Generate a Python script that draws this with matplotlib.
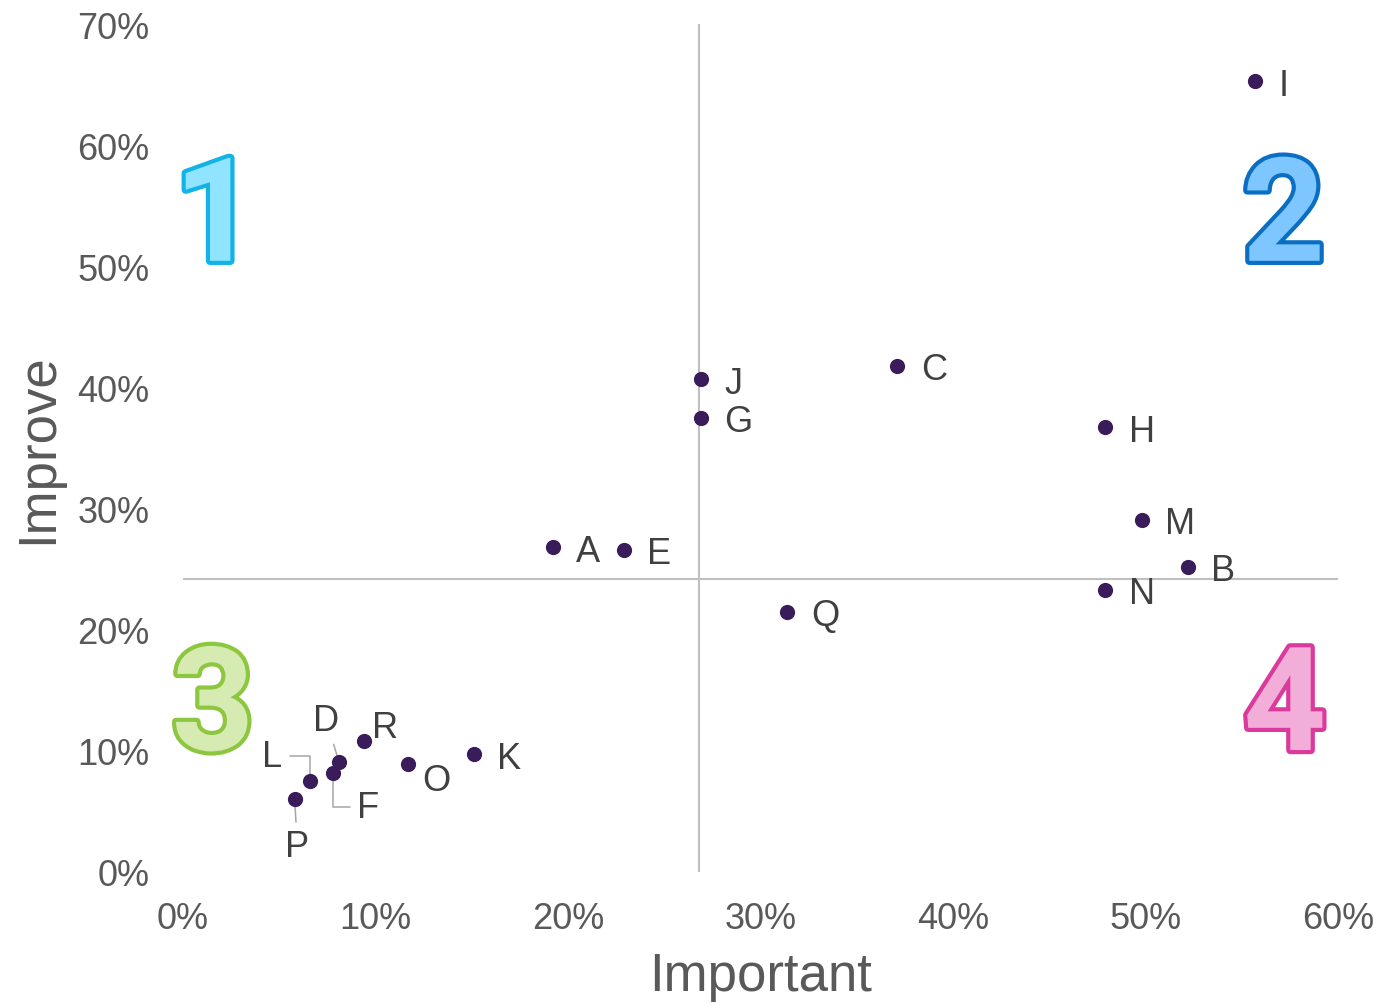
import numpy as np
import matplotlib
matplotlib.use("Agg")
import matplotlib.pyplot as plt
import matplotlib.patheffects as pe

plt.rcParams['font.family'] = ['Liberation Sans', 'DejaVu Sans']

# share of respondents (%)
names = ['A', 'B', 'C', 'D', 'E', 'F', 'G', 'H', 'I',
         'J', 'K', 'L', 'M', 'N', 'O', 'P', 'Q', 'R']
important = [19.2, 52.2, 37.1, 8.1, 22.9, 7.8, 26.9, 47.9, 55.7,
             26.9, 15.1, 6.6, 49.8, 47.9, 11.7, 5.8, 31.4, 9.4]
improve = [26.8, 25.2, 41.8, 9.1, 26.6, 8.2, 37.5, 36.7, 65.3,
           40.7, 9.7, 7.5, 29.1, 23.3, 8.9, 6.0, 21.5, 10.8]

xticks = [0, 10, 20, 30, 40, 50, 60]
yticks = [0, 10, 20, 30, 40, 50, 60, 70]

# label offsets in points; the crowded ones get leader lines
offsets = {'R': (6, 10), 'O': (10, -12)}
leaders = {
    'L': ((-27, 18), 'angle,angleA=0,angleB=90,rad=0'),
    'D': ((-9, 30), 'arc3'),
    'F': ((25, -25), 'angle,angleA=0,angleB=90,rad=0'),
    'P': ((2, -34), 'arc3'),
}

quadrants = [
    ('1', 0.028, 0.768, '#91E4FF', '#12B3E6'),
    ('2', 0.953, 0.768, '#7EC6FF', '#0A6FC2'),
    ('3', 0.026, 0.191, '#D5EBB2', '#8DC63F'),
    ('4', 0.954, 0.191, '#F2AED8', '#DA3A9C'),
]

fig = plt.figure(figsize=(14, 10.04), dpi=100)
ax = fig.add_axes([0.1307, 0.1305, 0.825, 0.8445])

ax.axvline(np.mean(important), color='#BFBFBF', lw=1.5, zorder=1)
ax.axhline(np.mean(improve), color='#BFBFBF', lw=1.5, zorder=1)

ax.scatter(important, improve, s=120, color='#3B1C5A', zorder=3, linewidths=0)

for n, x, y in zip(names, important, improve):
    if n in leaders:
        off, cs = leaders[n]
        ax.annotate(n, (x, y), xytext=off, textcoords='offset points',
                    ha='center', va='center', fontsize=26, color='#404040',
                    arrowprops=dict(arrowstyle='-', color='#A6A6A6', lw=1.1,
                                    connectionstyle=cs, shrinkA=3, shrinkB=0),
                    zorder=2)
    else:
        off = offsets.get(n, (17, -3))
        ax.annotate(n, (x, y), xytext=off, textcoords='offset points',
                    ha='left', va='center', fontsize=26, color='#404040')

for digit, qx, qy, fill, edge in quadrants:
    ax.text(qx, qy, digit, transform=ax.transAxes, ha='center', va='center',
            fontsize=104, fontweight='bold', color=fill,
            family=['Roboto', 'Liberation Sans'],
            path_effects=[pe.withStroke(linewidth=6, foreground=edge)])

ax.set_xlim(0, 60)
ax.set_ylim(0, 70)
ax.set_xticks(xticks)
ax.set_yticks(yticks)
ax.set_xticklabels([f'{t}%' for t in xticks])
ax.set_yticklabels([f'{t}%' for t in yticks])
ax.tick_params(length=0, labelsize=26, labelcolor='#595959')
ax.tick_params(axis='x', pad=21)
ax.tick_params(axis='y', pad=24)
for s in ax.spines.values():
    s.set_visible(False)

ax.set_xlabel('Important', fontsize=38, color='#595959', labelpad=11)
ax.set_ylabel('Improve', fontsize=38, color='#595959', labelpad=10)

fig.savefig('out.png', dpi=100)
